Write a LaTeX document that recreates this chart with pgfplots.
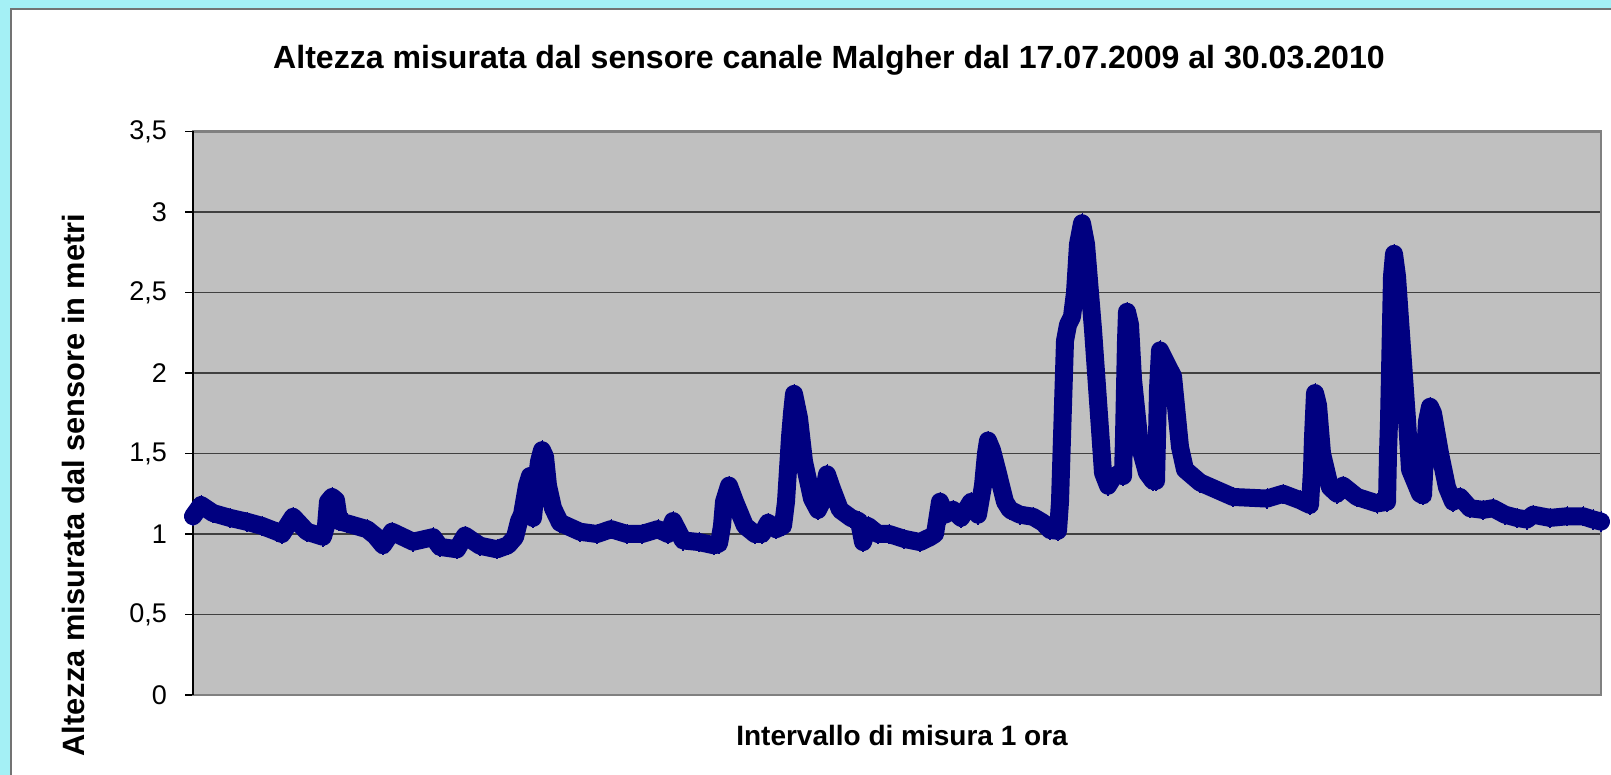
\documentclass[border=0pt]{standalone}
\usepackage{fontspec}
\setmainfont{Liberation Sans}
\usepackage{pgfplots}
\pgfplotsset{compat=1.18}
\definecolor{cyanbg}{RGB}{164,240,245}
\definecolor{navy}{RGB}{0,0,128}
\definecolor{plotgray}{RGB}{192,192,192}
\begin{document}
\begin{tikzpicture}
\useasboundingbox (0,0) rectangle (805.5pt,387.5pt);
\fill[cyanbg] (0,0) rectangle (805.5pt,387.5pt);
\filldraw[fill=white,draw=black!55,line width=0.7pt] (5.5pt,-10pt) rectangle (815pt,383pt);
\node[anchor=base,font=\fontsize{16.05pt}{19pt}\selectfont\bfseries] at (414.5pt,353pt) {Altezza misurata dal sensore canale Malgher dal 17.07.2009 al 30.03.2010};
\node[anchor=base,font=\fontsize{14pt}{17pt}\selectfont\bfseries] at (451pt,14.5pt) {Intervallo di misura 1 ora};
\node[anchor=base,rotate=90,font=\fontsize{15.4pt}{18pt}\selectfont\bfseries] at (42.5pt,145pt) {Altezza misurata dal sensore in metri};
\begin{axis}[
 at={(96.5pt,40pt)}, anchor=south west, scale only axis,
 width=704pt, height=281.75pt,
 xmin=193, xmax=1601, ymin=0, ymax=3.5,
 xtick=\empty,
 ytick={0,0.5,1,1.5,2,2.5,3,3.5},
 ymajorgrids, grid style={black!75, line width=0.6pt},
 axis background/.style={fill=plotgray},
 axis line style={draw=black!50, line width=1.2pt},
 tick align=outside, major tick length=4pt,
 tick style={black, line width=0.6pt},
 ytick pos=left,
 /pgf/number format/use comma,
 /pgf/number format/assume math mode=true,
 y tick label style={font=\fontsize{13.5pt}{16pt}\selectfont, xshift=-5.5pt},
 clip=false,
]
\draw[black, line width=0.9pt] (rel axis cs:0,0) -- (rel axis cs:0,1);
\addplot[navy, line width=9pt, line join=round, line cap=round, mark=diamond*, mark size=4.8pt, mark options={solid, line width=0pt, fill=navy}] table {
x y
193 1.11
201 1.18
213 1.13
230 1.10
247 1.076
262 1.05
277 1.014
282 1.0
293 1.107
307 1.014
323 0.983
326 1.05
328 1.20
332 1.23
336 1.21
339 1.08
347 1.066
367 1.03
375 0.99
383 0.93
392 1.014
413 0.952
433 0.98
440 0.92
457 0.905
465 0.99
480 0.927
497 0.905
508 0.93
515 0.98
519 1.08
522 1.12
527 1.30
530 1.36
533 1.10
536 1.30
539 1.45
542 1.52
545 1.48
548 1.30
553 1.16
560 1.07
580 1.014
597 1.0
611 1.03
627 1.0
642 1.0
658 1.03
668 1.0
673 1.08
683 0.96
699 0.95
714 0.93
719 0.94
722 1.05
724 1.2
729 1.3
735 1.2
745 1.05
755 1.0
762 1.0
768 1.07
776 1.03
783 1.05
786 1.2
788 1.4
790 1.6
792 1.75
794 1.87
799 1.72
804 1.45
812 1.22
818 1.15
822 1.2
827 1.37
832 1.28
840 1.15
851 1.1
859 1.08
863 0.95
868 1.05
878 1.0
889 1.0
904 0.97
920 0.95
930 0.98
935 1.0
940 1.2
945 1.12
953 1.15
961 1.1
971 1.2
978 1.12
983 1.3
986 1.5
988 1.58
992 1.52
997 1.4
1005 1.2
1010 1.15
1020 1.12
1033 1.107
1043 1.07
1050 1.025
1058 1.02
1060 1.2
1061 1.4
1062 1.6
1063 1.8
1064 2.0
1065 2.2
1068 2.3
1072 2.35
1075 2.5
1078 2.8
1082 2.93
1086 2.8
1093 2.27
1100 1.65
1103 1.38
1108 1.30
1113 1.35
1120 1.38
1123 1.36
1124 1.6
1125 1.9
1126 2.2
1127 2.38
1130 2.3
1133 1.96
1140 1.54
1147 1.38
1153 1.33
1156 1.33
1157 1.6
1158 1.9
1160 2.14
1168 2.04
1173 1.98
1180 1.54
1185 1.40
1200 1.32
1233 1.23
1267 1.22
1283 1.25
1300 1.21
1310 1.18
1312 1.4
1313 1.6
1315 1.875
1318 1.8
1322 1.50
1330 1.29
1337 1.25
1343 1.30
1357 1.23
1377 1.19
1387 1.20
1388 1.5
1389 1.7
1390 2.0
1391 2.3
1392 2.6
1394 2.74
1397 2.6
1400 2.33
1407 1.71
1410 1.40
1420 1.25
1423 1.24
1425 1.5
1427 1.7
1430 1.79
1433 1.75
1440 1.50
1447 1.29
1453 1.20
1460 1.23
1470 1.16
1483 1.15
1493 1.16
1505 1.12
1517 1.10
1527 1.09
1533 1.12
1550 1.10
1567 1.11
1583 1.11
1593 1.09
1601 1.077
};
\end{axis}
\end{tikzpicture}
\end{document}
